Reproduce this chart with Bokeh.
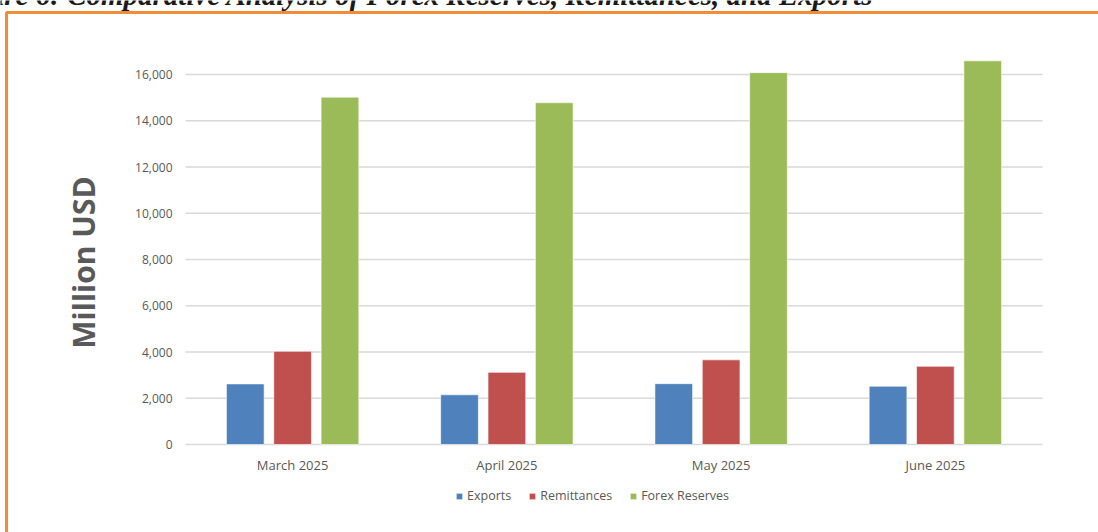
import math
from bokeh.plotting import figure
from bokeh.models import (ColumnDataSource, Range1d, Legend, LegendItem, Label, BoxAnnotation)
from bokeh.core.properties import value
from bokeh.embed import file_html
from bokeh.resources import INLINE

months = ["March 2025", "April 2025", "May 2025", "June 2025"]
exports = [2620, 2150, 2630, 2520]
remittances = [4030, 3120, 3660, 3380]
forex_reserves = [15020, 14780, 16080, 16590]
y_ticks = [0, 2000, 4000, 6000, 8000, 10000, 12000, 14000, 16000]
y_tick_labels = ["0", "2,000", "4,000", "6,000", "8,000", "10,000", "12,000", "14,000", "16,000"]
series_names = ["Exports", "Remittances", "Forex Reserves"]
colors = ["#4F81BD", "#C0504D", "#9BBB59"]
title_text = "Figure 6: Comparative Analysis of Forex Reserves, Remittances, and Exports"
y_label = "Million USD"

W, H = 1098, 532
# plot area (pixels) where the category axis and the value axis live
FL, FR, FB = 185, 1042, 444
PX_PER_CAT = (FR - FL) / len(months)
PX_PER_UNIT = 370 / 16000.0

x_start = -FL / PX_PER_CAT
x_end = (W - FL) / PX_PER_CAT
y_start = -(H - FB) / PX_PER_UNIT
y_end = FB / PX_PER_UNIT

p = figure(width=W, height=H, x_range=Range1d(x_start, x_end),
           y_range=Range1d(y_start, y_end), output_backend="svg",
           toolbar_location=None, x_axis_location=None, y_axis_location=None,
           min_border=0)
p.outline_line_color = None
p.background_fill_color = "white"
p.border_fill_color = "white"
p.grid.visible = False

centers = [i + 0.5 for i in range(len(months))]

# gridlines at tick values across the category span
p.segment(x0=[0] * len(y_ticks), x1=[len(months)] * len(y_ticks), y0=y_ticks, y1=y_ticks,
          line_color="#D9D9D9", line_width=1.3)

series = [exports, remittances, forex_reserves]
offsets = [-0.221, 0.0, 0.221]
renderers = []
for vals, off, c in zip(series, offsets, colors):
    s = ColumnDataSource(dict(x=[v + off for v in centers], top=vals))
    r = p.vbar(x="x", top="top", bottom=0, width=0.176, source=s,
               fill_color=c, line_color="white", line_alpha=0.6, line_width=1)
    renderers.append(r)

# value-axis tick labels
lbl_x = (172 - FL) / PX_PER_CAT
p.text(x=[lbl_x] * len(y_ticks), y=y_ticks, text=y_tick_labels,
       text_align="right", text_baseline="middle", text_font=value("Open Sans"),
       text_font_size="12px", text_color="#595959")

# category labels
cat_y = -(464 - FB) / PX_PER_UNIT
p.text(x=centers, y=[cat_y] * len(months), text=months, text_align="center",
       text_baseline="middle", text_font=value("Open Sans"), text_font_size="13px",
       text_color="#595959")

legend = Legend(items=[LegendItem(label=n, renderers=[r]) for n, r in zip(series_names, renderers)],
                orientation="horizontal", location=(455, H - 504),
                glyph_width=8, glyph_height=8, label_standoff=4, spacing=17,
                padding=0, margin=0, border_line_color=None,
                background_fill_alpha=0, label_text_font="Open Sans",
                label_text_font_size="12.5px", label_text_color="#595959")
p.add_layout(legend, "center")

p.add_layout(Label(x=83, y=H - 262, x_units="screen", y_units="screen",
                   text=y_label, angle=math.pi / 2, text_align="center",
                   text_baseline="middle", text_font="Open Sans",
                   text_font_style="bold", text_font_size="30px",
                   text_color="#595959"))

p.add_layout(Label(x=873, y=H + 6, x_units="screen", y_units="screen",
                   text=title_text, text_align="right", text_baseline="alphabetic",
                   text_font="Liberation Serif", text_font_style="bold italic",
                   text_font_size="29px", text_color="#1A1A1A"))

p.add_layout(BoxAnnotation(left=6, right=W + 20, top=H - 12, bottom=-20,
                           left_units="screen", right_units="screen",
                           top_units="screen", bottom_units="screen",
                           fill_alpha=0, line_color="#F28C38", line_alpha=1.0,
                           line_width=3))

open("out.html", "w").write(file_html(p, INLINE))
